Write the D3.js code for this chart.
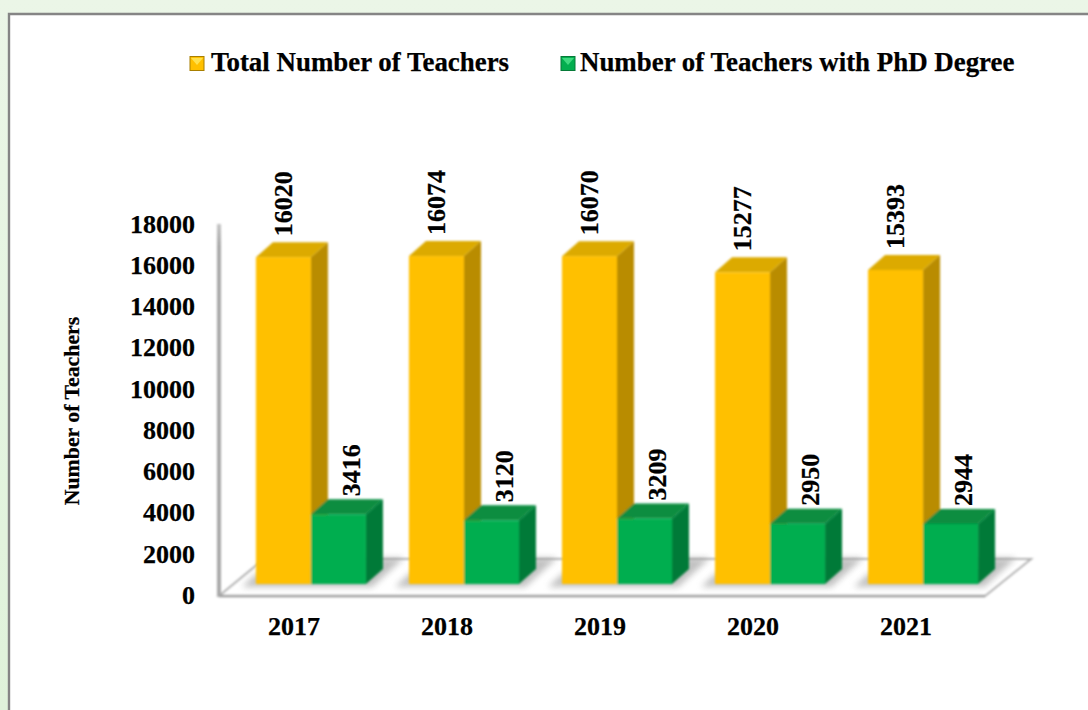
<!DOCTYPE html>
<html>
<head>
<meta charset="utf-8">
<script src="https://cdn.jsdelivr.net/npm/d3@7"></script>
<style>
    html, body { margin: 0; padding: 0; background: #e6f4e2; overflow: hidden; }
    text { font-family: "Liberation Serif", serif; font-weight: bold; fill: #000; stroke: #000; stroke-width: 0.25px; }
</style>
</head>
<body>
<div id="chart"></div>
<script>
var years = ["2017", "2018", "2019", "2020", "2021"];
var totalTeachers = [16020, 16074, 16070, 15277, 15393];
var phdTeachers = [3416, 3120, 3209, 2950, 2944];
var seriesNames = ["Total Number of Teachers", "Number of Teachers with PhD Degree"];
var yTicks = [0, 2000, 4000, 6000, 8000, 10000, 12000, 14000, 16000, 18000];

var svgWidth = 1088, svgHeight = 710;

var svg = d3.select("#chart").append("svg")
    .attr("width", svgWidth)
    .attr("height", svgHeight)
    .style("display", "block");

var defs = svg.append("defs");

var bg = defs.append("linearGradient").attr("id", "pageBg").attr("x1", 0).attr("y1", 0).attr("x2", 0).attr("y2", 1);
bg.append("stop").attr("offset", "0%").attr("stop-color", "#ebf6e7");
bg.append("stop").attr("offset", "100%").attr("stop-color", "#dff2da");

defs.append("filter").attr("id", "soft").append("feGaussianBlur").attr("stdDeviation", 0.9);
defs.append("filter").attr("id", "shadowBlur")
    .attr("x", "-30%").attr("y", "-30%").attr("width", "160%").attr("height", "160%")
    .append("feGaussianBlur").attr("stdDeviation", 3);

var wallFade = defs.append("linearGradient").attr("id", "wallFade").attr("x1", 0).attr("y1", 0).attr("x2", 0).attr("y2", 1);
wallFade.append("stop").attr("offset", "0%").attr("stop-color", "#c4c4c4");
wallFade.append("stop").attr("offset", "6%").attr("stop-color", "#a8a8a8");
wallFade.append("stop").attr("offset", "100%").attr("stop-color", "#a8a8a8");

// page background and the frame around the figure
svg.append("rect").attr("width", svgWidth).attr("height", svgHeight).attr("fill", "url(#pageBg)");
svg.append("rect").attr("x", 10).attr("y", 15).attr("width", svgWidth).attr("height", svgHeight).attr("fill", "#fff");
svg.append("path").attr("d", "M9,710V14H1088").attr("fill", "none").attr("stroke", "#858585").attr("stroke-width", 2.4);

// scales
var x = d3.scaleBand().domain(years).range([234.5, 999.5]).paddingInner(0.281).paddingOuter(0.14);
var xSeries = d3.scaleBand().domain([0, 1]).range([0, x.bandwidth()]);
var y = d3.scaleLinear().domain([0, 18000]).range([584, 216.8]);
// the axis sits on the front edge of the floor, so it is a little longer than the bars' scale
var yAxisScale = d3.scaleLinear().domain([0, 18000]).range([595, 224]);

var depthX = 17, depthY = 15;

var barData = [];
years.forEach(function (yr, i) {
    barData.push({ year: yr, series: 0, value: totalTeachers[i], front: "#ffc000", top: "#dcaa06", side: "#b98c00" });
    barData.push({ year: yr, series: 1, value: phdTeachers[i], front: "#03ae4f", top: "#078d3f", side: "#067a38" });
});

function barLeft(d) { return x(d.year) + xSeries(d.series); }
function barRight(d) { return barLeft(d) + xSeries.bandwidth(); }

// floor and wall
var floorFront = yAxisScale(0) + 1, floorBack = floorFront - 37;
var floorLeft = 219, floorRight = 985;
var floorGroup = svg.append("g").attr("filter", "url(#soft)");
floorGroup.append("path")
    .attr("d", `M${floorLeft},${floorFront}L${floorLeft + 45},${floorBack}H${floorRight + 46}L${floorRight},${floorFront}Z`)
    .attr("fill", "#fff")
    .attr("stroke", "#b0b0b0")
    .attr("stroke-width", 2);
floorGroup.append("line")
    .attr("x1", floorLeft).attr("x2", floorRight)
    .attr("y1", floorFront).attr("y2", floorFront)
    .attr("stroke", "#9a9a9a").attr("stroke-width", 2.6);
floorGroup.append("rect")
    .attr("x", floorLeft - 2).attr("y", yAxisScale(18000))
    .attr("width", 4).attr("height", floorFront - yAxisScale(18000))
    .attr("fill", "url(#wallFade)");

// shadows on the floor
svg.append("g").selectAll("path")
    .data(years)
    .join("path")
    .attr("d", function (d) {
        var l = x(d), r = x(d) + x.bandwidth();
        return `M${l - 14},${y(0) + 3}H${r + 6}L${r + 38},${y(0) - 26}H${r}L${l},${y(0) - 10}Z`;
    })
    .attr("fill", "#8f8f8f")
    .attr("opacity", 0.55)
    .attr("filter", "url(#shadowBlur)");

// 3d bars, each one made of side, top and front faces
var bars = svg.append("g").attr("filter", "url(#soft)")
    .selectAll("g")
    .data(barData)
    .join("g");

bars.append("path")
    .attr("d", function (d) {
        var r = barRight(d);
        return `M${r},${y(d.value)}L${r + depthX},${y(d.value) - depthY}V${y(0) - depthY}L${r},${y(0)}Z`;
    })
    .attr("fill", function (d) { return d.side; });

bars.append("path")
    .attr("d", function (d) {
        var l = barLeft(d), r = barRight(d);
        return `M${l},${y(d.value)}L${l + depthX},${y(d.value) - depthY}H${r + depthX}L${r},${y(d.value)}Z`;
    })
    .attr("fill", function (d) { return d.top; });

bars.append("rect")
    .attr("x", barLeft)
    .attr("y", function (d) { return y(d.value); })
    .attr("width", xSeries.bandwidth())
    .attr("height", function (d) { return y(0) - y(d.value); })
    .attr("fill", function (d) { return d.front; });

// value labels, turned on their side
svg.append("g").selectAll("text")
    .data(barData)
    .join("text")
    .attr("transform", function (d) {
        var cx = barLeft(d) + xSeries.bandwidth() / 2 + (d.series == 1 ? 13 : 0);
        var cy = y(d.value) - (d.series == 1 ? 18 : 21);
        return `translate(${cx},${cy})rotate(-90)`;
    })
    .attr("dy", "0.33em")
    .style("font-size", "26px")
    .text(function (d) { return d.value; });

// y axis
var yAxisG = svg.append("g")
    .attr("transform", `translate(${floorLeft},0)`)
    .call(d3.axisLeft(yAxisScale).tickValues(yTicks).tickSize(0).tickPadding(24).tickFormat(d3.format("d")));
yAxisG.select(".domain").remove();
yAxisG.selectAll("text").style("font-size", "26px").style("font-family", "Liberation Serif").attr("fill", "#000");

// x axis labels
svg.append("g").selectAll("text")
    .data(years)
    .join("text")
    .attr("x", function (d) { return x(d) + x.bandwidth() / 2 - 17; })
    .attr("y", 635)
    .attr("text-anchor", "middle")
    .style("font-size", "26px")
    .text(function (d) { return d; });

// y axis title
svg.append("text")
    .attr("transform", "translate(79,411)rotate(-90)")
    .attr("text-anchor", "middle")
    .style("font-size", "21.8px")
    .text("Number of Teachers");

// legend
var legendItems = [
    { name: seriesNames[0], boxX: 190, textX: 211, base: "#ffc000", light: "#ffe14d", dark: "#a87f00", mid: "#d9a300" },
    { name: seriesNames[1], boxX: 561, textX: 580, base: "#03ae4f", light: "#3fd97f", dark: "#067a38", mid: "#078d3f" }
];
var legend = svg.append("g").selectAll("g").data(legendItems).join("g");
legend.append("rect")
    .attr("x", function (d) { return d.boxX; })
    .attr("y", 56.5)
    .attr("width", 14)
    .attr("height", 14)
    .attr("fill", function (d) { return d.base; })
    .attr("stroke", function (d) { return d.dark; })
    .attr("stroke-width", 1);
legend.append("path")
    .attr("d", function (d) { return `M${d.boxX + 1},${58}H${d.boxX + 13}L${d.boxX + 7},${65}Z`; })
    .attr("fill", function (d) { return d.light; });
legend.append("text")
    .attr("x", function (d) { return d.textX; })
    .attr("y", 71)
    .style("font-size", "26.9px")
    .text(function (d) { return d.name; });
</script>
</body>
</html>
